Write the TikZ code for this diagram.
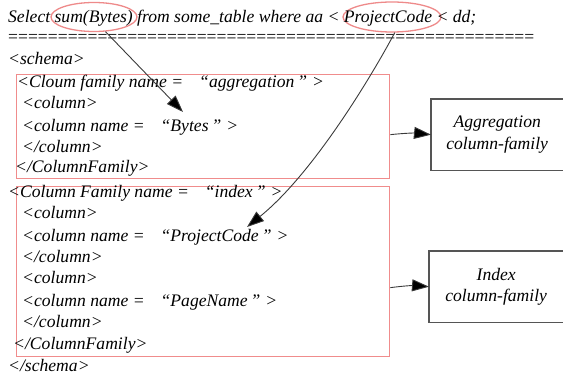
\documentclass[tikz,border=0pt]{standalone}
\usepackage{fontspec}
\setmainfont{Liberation Serif}
\usetikzlibrary{shapes.geometric,arrows.meta}
\definecolor{redline}{HTML}{F08C8C}
\definecolor{ellline}{HTML}{EE8A8A}
\definecolor{conncol}{HTML}{3A3A3A}
\definecolor{boxcol}{HTML}{555555}
\begin{document}
\begin{tikzpicture}[x=1pt,y=-1pt,
  txt/.style={font=\itshape\fontsize{17.6}{20}\selectfont, anchor=base west, inner sep=0pt},
  redbox/.style={draw=redline, line width=1.3pt, anchor=north west, inner sep=0pt},
  ell/.style={ellipse, draw=ellline, line width=1.3pt, inner sep=0pt},
  sidebox/.style={anchor=north west, inner sep=0pt, align=center, font=\itshape\fontsize{17.6}{21.5}\selectfont},
  conn/.style={draw=conncol, line width=0.9pt, -{Triangle[length=17pt,width=12pt,fill=black]}},
]
\useasboundingbox (0,0) rectangle (563,382);

% red boxes
\node[redbox, minimum width=373, minimum height=104] (fam1) at (16,74) {};
\node[redbox, minimum width=373, minimum height=170] (fam2) at (16,186) {};

% ellipses
\node[ell, minimum width=86, minimum height=29] (sumE) at (94,17) {};
\node[ell, minimum width=98, minimum height=30] (pcE) at (392,17) {};

% text lines
\node[txt] (l0) at (8,23) {Select sum(Bytes) from some\_table where aa < ProjectCode < dd;};
\node[txt, font=\upshape\fontsize{17.6}{20}\selectfont] (l1) at (8,43) {=====================================================};
\node[txt] (l2) at (8,65) {<schema>};
\node[txt] (l3) at (17,88) {<Cloum family name =\hspace{16pt}“aggregation\hspace{3pt}”\hspace{5pt}>};
\node[txt] (l4) at (22,109) {<column>};
\node[txt] (l5) at (22,132) {<column name =\hspace{16pt}“Bytes\hspace{3pt}”\hspace{5pt}>};
\node[txt] (l6) at (22,153) {</column>};
\node[txt] (l7) at (15,173) {</ColumnFamily>};
\node[txt] (l8) at (8,198) {<Column Family name =\hspace{16pt}“index\hspace{3pt}”\hspace{5pt}>};
\node[txt] (l9) at (22,219) {<column>};
\node[txt] (l10) at (22,242) {<column name =\hspace{16pt}“ProjectCode\hspace{3pt}”\hspace{5pt}>};
\node[txt] (l11) at (22,263) {</column>};
\node[txt] (l12) at (22,284) {<column>};
\node[txt] (l13) at (22,307) {<column name =\hspace{16pt}“PageName\hspace{3pt}”\hspace{5pt}>};
\node[txt] (l14) at (22,328) {</column>};
\node[txt] (l15) at (13,350) {</ColumnFamily>};
\node[txt] (l16) at (8,372) {</schema>};

% side boxes (open on the right, cut by the picture edge)
\node[sidebox, minimum width=132, minimum height=71] (aggB) at (431,99) {Aggregation\\column-family};
\node[sidebox, minimum width=134, minimum height=71] (idxB) at (429,251) {Index\\column-family};
\draw[boxcol, line width=1.2pt] (aggB.north east) -- (aggB.north west) -- (aggB.south west) -- (aggB.south east);
\draw[boxcol, line width=1.2pt] (idxB.north east) -- (idxB.north west) -- (idxB.south west) -- (idxB.south east);

% arrow targets
\coordinate (bytesTip) at (183,112);
\coordinate (pcTip) at (247,227);

% connectors
\draw[conn] (sumE.-52) -- (bytesTip);
\draw[conn] (pcE.-80) .. controls (375,70) and (315,172) .. (pcTip);
\draw[conn] ([yshift=-8pt]fam1.east) to[bend left=6] (aggB.west);
\draw[conn] ([yshift=-16pt]fam2.east) to[bend left=6] (idxB.west);
\end{tikzpicture}
\end{document}
